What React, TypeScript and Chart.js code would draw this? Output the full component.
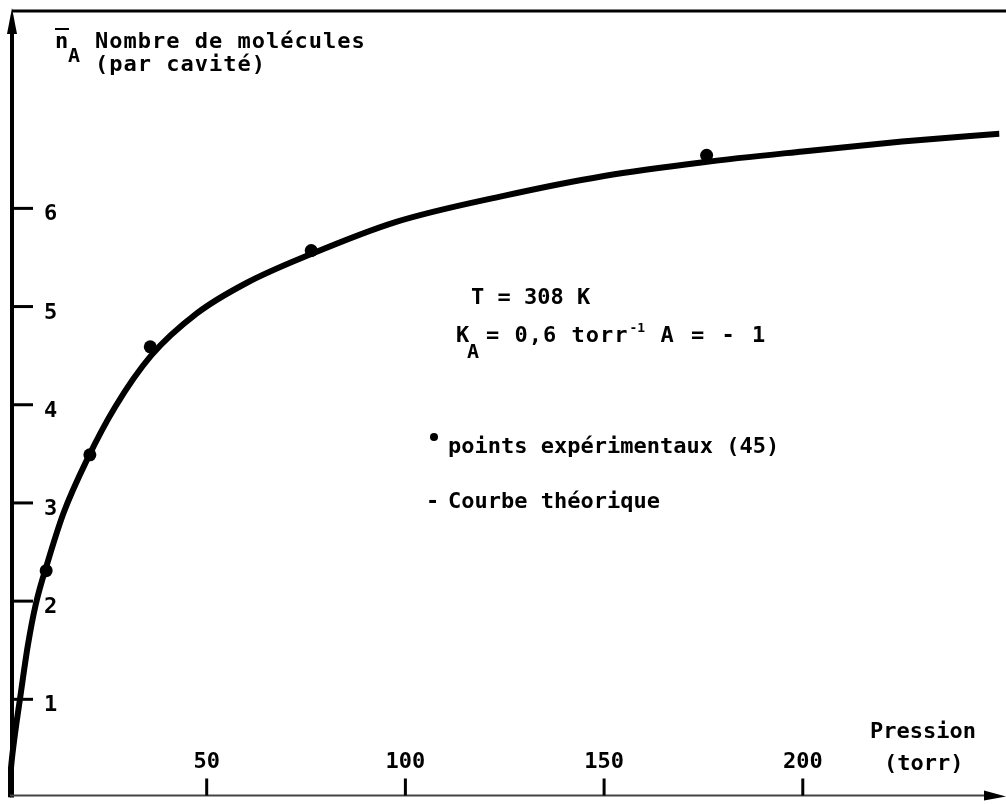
import { useEffect, useRef } from 'react';
import { Chart, registerables } from 'chart.js';

Chart.register(...registerables);

// Theoretical curve (pressure in torr, mean number of molecules per cavity)
const curvePressure = [0, 0.4, 1, 2, 3, 5, 7, 10, 14, 20, 27, 36, 47.5, 60, 76, 97.5, 125, 150, 175, 200, 225, 249.5];
const curveMolecules = [0, 0.15, 0.4, 0.72, 1.0, 1.55, 1.97, 2.4, 2.9, 3.45, 3.98, 4.5, 4.93, 5.24, 5.53, 5.86, 6.13, 6.33, 6.47, 6.58, 6.68, 6.76];

// Experimental points
const pointPressure = [9.6, 20.6, 35.8, 76.3, 175.8];
const pointMolecules = [2.31, 3.49, 4.59, 5.57, 6.54];

// Axis ticks
const xTicks = [50, 100, 150, 200];
const yTicks = [1, 2, 3, 4, 5, 6];

const FONT = '"DejaVu Sans Mono", "Liberation Mono", monospace';

const scanPlugin = {
  id: 'scanPlugin',
  beforeDraw(chart: any) {
    const ctx = chart.ctx;
    ctx.save();
    ctx.fillStyle = '#ffffff';
    ctx.fillRect(0, 0, chart.width, chart.height);
    ctx.restore();
  },
  afterDraw(chart: any) {
    const ctx = chart.ctx as any;
    const xs = chart.scales.x;
    const ys = chart.scales.y;
    const axisX = xs.getPixelForValue(0) + 4;
    const axisY = ys.getPixelForValue(0) - 2;
    ctx.save();
    ctx.strokeStyle = '#000';
    ctx.fillStyle = '#000';
    ctx.lineCap = 'butt';

    // top frame line
    ctx.lineWidth = 3;
    ctx.beginPath();
    ctx.moveTo(axisX, 11);
    ctx.lineTo(chart.width, 11);
    ctx.stroke();

    // y axis
    ctx.lineWidth = 4;
    ctx.beginPath();
    ctx.moveTo(axisX, axisY + 2);
    ctx.lineTo(axisX, 20);
    ctx.stroke();
    ctx.beginPath();
    ctx.moveTo(axisX, 8);
    ctx.lineTo(axisX - 5, 34);
    ctx.lineTo(axisX + 5, 34);
    ctx.closePath();
    ctx.fill();

    // x axis
    ctx.strokeStyle = '#444';
    ctx.lineWidth = 2;
    ctx.beginPath();
    ctx.moveTo(axisX - 2, axisY);
    ctx.lineTo(990, axisY);
    ctx.stroke();
    ctx.strokeStyle = '#000';
    ctx.beginPath();
    ctx.moveTo(chart.width, axisY + 1);
    ctx.lineTo(984, axisY - 5);
    ctx.lineTo(984, axisY + 5);
    ctx.closePath();
    ctx.fill();

    ctx.font = `bold 22px ${FONT}`;
    ctx.textBaseline = 'alphabetic';

    // y ticks
    ctx.lineWidth = 3;
    yTicks.forEach((v) => {
      const py = ys.getPixelForValue(v);
      ctx.beginPath();
      ctx.moveTo(axisX, py);
      ctx.lineTo(axisX + 21, py);
      ctx.stroke();
      ctx.textAlign = 'left';
      ctx.fillText(String(v), 44, py + 12);
    });

    // x ticks
    xTicks.forEach((v) => {
      const px = xs.getPixelForValue(v);
      ctx.beginPath();
      ctx.moveTo(px, axisY);
      ctx.lineTo(px, axisY - 17);
      ctx.stroke();
      ctx.textAlign = 'center';
      ctx.fillText(String(v), px, 768);
    });

    ctx.textAlign = 'left';
    // axis titles
    ctx.fillText('n', 55, 48);
    ctx.lineWidth = 2;
    ctx.beginPath();
    ctx.moveTo(55, 29);
    ctx.lineTo(69, 29);
    ctx.stroke();
    ctx.font = `bold 20px ${FONT}`;
    ctx.fillText('A', 68, 62);
    ctx.font = `bold 22px ${FONT}`;
    ctx.letterSpacing = '1px';
    ctx.fillText('Nombre de molécules', 95, 48);
    ctx.fillText('(par cavité)', 95, 71);
    ctx.letterSpacing = '0px';

    ctx.fillText('Pression', 870, 738);
    ctx.fillText('(torr)', 884, 770);

    // annotations
    ctx.fillText('T = 308 K', 471, 304);
    ctx.fillText('K', 456, 342);
    ctx.font = `bold 20px ${FONT}`;
    ctx.fillText('A', 467, 358);
    ctx.font = `bold 22px ${FONT}`;
    ctx.letterSpacing = '1px';
    const seg1 = '= 0,6 torr';
    ctx.fillText(seg1, 486, 342);
    const w1 = ctx.measureText(seg1).width;
    ctx.font = `bold 13px ${FONT}`;
    ctx.letterSpacing = '0px';
    ctx.fillText('-1', 486 + w1 + 1, 332);
    ctx.font = `bold 22px ${FONT}`;
    ctx.letterSpacing = '2px';
    ctx.fillText('A = - 1', 486 + w1 + 32, 342);
    ctx.letterSpacing = '0px';

    ctx.beginPath();
    ctx.arc(434, 437, 4, 0, Math.PI * 2);
    ctx.fill();
    ctx.fillText('points expérimentaux (45)', 448, 453);
    ctx.fillText('-', 426, 508);
    ctx.fillText('Courbe théorique', 448, 508);

    ctx.restore();
  },
};

export default function App() {
  const canvasRef = useRef<HTMLCanvasElement | null>(null);

  useEffect(() => {
    document.body.style.margin = '0';
    document.body.style.background = '#ffffff';
    const canvas = canvasRef.current;
    if (!canvas) return;
    const chart = new Chart(canvas, {
      type: 'scatter',
      data: {
        datasets: [
          {
            label: 'Courbe théorique',
            data: curvePressure.map((x, i) => ({ x, y: curveMolecules[i] })),
            showLine: true,
            borderColor: '#000',
            borderWidth: 6,
            pointRadius: 0,
            cubicInterpolationMode: 'monotone',
            fill: false,
          },
          {
            label: 'points expérimentaux (45)',
            data: pointPressure.map((x, i) => ({ x, y: pointMolecules[i] })),
            showLine: false,
            backgroundColor: '#000',
            borderColor: '#000',
            borderWidth: 0,
            pointRadius: 6.5,
          },
        ],
      },
      options: {
        responsive: false,
        animation: false,
        devicePixelRatio: 1,
        layout: { padding: { left: 8, top: 12, right: 0, bottom: 0 } },
        plugins: { legend: { display: false }, tooltip: { enabled: false } },
        scales: {
          x: { type: 'linear', min: 0, max: 249.5, display: false },
          y: { type: 'linear', min: 0, max: 8, display: false },
        },
      },
      plugins: [scanPlugin],
    } as any);
    return () => chart.destroy();
  }, []);

  return <canvas ref={canvasRef} width={1006} height={804} style={{ display: 'block' }} />;
}
